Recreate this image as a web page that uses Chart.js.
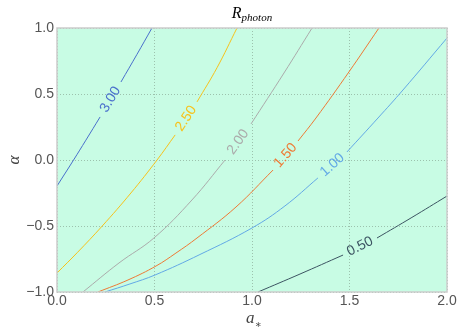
<!DOCTYPE html>
<html>
<head>
<meta charset="utf-8">
<script src="https://cdn.jsdelivr.net/npm/chart.js@4"></script>
<style>
  html, body { margin: 0; padding: 0; background: #fff; }
</style>
</head>
<body>
<canvas id="myChart" width="463" height="335"></canvas>
<script>
// contour levels and their traced points [a*, alpha]
// each contour is split in two pieces: the gap between them holds the label
const levels = ['3.00', '2.50', '2.00', '1.50', '1.00', '0.50'];

const r300Lo = [[0, -0.197], [0.085, 0], [0.148, 0.15], [0.221, 0.326]];
const r300Hi = [[0.328, 0.591], [0.41, 0.8], [0.487, 1.0]];

const r250Lo = [[0, -0.856], [0.105, -0.7], [0.232, -0.5], [0.379, -0.25], [0.513, 0], [0.606, 0.19]];
const r250Hi = [[0.718, 0.44], [0.821, 0.7], [0.923, 1.0]];

const r200Lo = [[0.133, -1.0], [0.318, -0.78], [0.497, -0.591], [0.692, -0.303], [0.862, 0]];
const r200Hi = [[0.995, 0.273], [1.164, 0.659], [1.308, 1.0]];

const r150Lo = [[0.21, -1.0], [0.364, -0.909], [0.508, -0.803], [0.61, -0.705], [0.718, -0.591], [0.918, -0.356], [1.108, -0.076]];
const r150Hi = [[1.236, 0.144], [1.328, 0.318], [1.497, 0.667], [1.651, 1.0]];

const r100Lo = [[0.246, -1.0], [0.374, -0.939], [0.503, -0.871], [0.733, -0.716], [1.0, -0.515], [1.169, -0.348], [1.338, -0.136]];
const r100Hi = [[1.487, 0.061], [1.646, 0.318], [1.774, 0.53], [2.0, 0.924]];

const r050Lo = [[1.031, -1.0], [1.246, -0.864], [1.467, -0.72]];
const r050Hi = [[1.641, -0.591], [1.82, -0.435], [2.0, -0.273]];

const xTicks = [0, 0.5, 1.0, 1.5, 2.0];
const yTicks = [-1.0, -0.5, 0, 0.5, 1.0];

const pieces = [
  [r300Lo, r300Hi], [r250Lo, r250Hi], [r200Lo, r200Hi],
  [r150Lo, r150Hi], [r100Lo, r100Hi], [r050Lo, r050Hi]
];
const colors = ['#4a70cc', '#f7c21b', '#ababab', '#ee7a35', '#63a9e6', '#3c5462'];

const toPts = arr => arr.map(p => ({ x: p[0], y: p[1] }));

const datasets = [];
pieces.forEach((pair, i) => {
  pair.forEach(seg => {
    datasets.push({
      data: toPts(seg),
      showLine: true,
      borderColor: colors[i],
      borderWidth: 1,
      pointRadius: 0,
      tension: 0.4,
      fill: false
    });
  });
});

const fmt = v => Number(v).toFixed(1).replace('-', '\u2212');

// background, frame, contour labels, title and axis titles
const decor = {
  id: 'decor',
  beforeDraw(chart) {
    const { ctx, chartArea: a } = chart;
    ctx.save();
    ctx.fillStyle = '#c8fce4';
    ctx.fillRect(a.left, a.top, a.right - a.left, a.bottom - a.top);
    ctx.restore();
  },
  afterDraw(chart) {
    const { ctx, chartArea: a, scales } = chart;
    ctx.save();
    ctx.strokeStyle = '#cccccc';
    ctx.lineWidth = 1.5;
    ctx.strokeRect(a.left, a.top, a.right - a.left, a.bottom - a.top);

    // contour labels in the gaps
    ctx.font = '14px "Liberation Sans", Arial, sans-serif';
    ctx.textAlign = 'center';
    ctx.textBaseline = 'middle';
    pieces.forEach((pair, i) => {
      const p0 = pair[0][pair[0].length - 1];
      const p1 = pair[1][0];
      const x0 = scales.x.getPixelForValue(p0[0]), y0 = scales.y.getPixelForValue(p0[1]);
      const x1 = scales.x.getPixelForValue(p1[0]), y1 = scales.y.getPixelForValue(p1[1]);
      ctx.save();
      ctx.translate((x0 + x1) / 2, (y0 + y1) / 2);
      ctx.rotate(Math.atan2(y1 - y0, x1 - x0));
      ctx.fillStyle = colors[i];
      ctx.fillText(levels[i], 0, 0);
      ctx.restore();
    });

    // title R_photon
    const cx = (a.left + a.right) / 2;
    ctx.textAlign = 'left';
    ctx.textBaseline = 'alphabetic';
    ctx.fillStyle = '#000';
    const bigF = 'italic 16px "Liberation Serif", "DejaVu Serif", serif';
    const smallF = 'italic 11px "Liberation Serif", "DejaVu Serif", serif';
    ctx.font = bigF;
    const wR = ctx.measureText('R').width;
    ctx.font = smallF;
    const wP = ctx.measureText('photon').width;
    const sx = cx - (wR + wP) / 2;
    ctx.font = bigF;
    ctx.fillText('R', sx, 18);
    ctx.font = smallF;
    ctx.fillText('photon', sx + wR, 21);

    // y axis title
    ctx.fillStyle = '#444';
    ctx.save();
    ctx.translate(19, (a.top + a.bottom) / 2);
    ctx.rotate(-Math.PI / 2);
    ctx.textAlign = 'center';
    ctx.font = 'italic 17px "Liberation Serif", "DejaVu Serif", serif';
    ctx.fillText('\u03b1', 0, 0);
    ctx.restore();

    // x axis title a_*
    ctx.font = 'italic 17px "Liberation Serif", "DejaVu Serif", serif';
    const wa = ctx.measureText('a').width;
    ctx.fillText('a', cx - 6, 323);
    ctx.font = '11px "DejaVu Sans", sans-serif';
    ctx.fillText('*', cx - 6 + wa + 1, 330);
    ctx.restore();
  }
};

const tickFont = { family: '"Liberation Sans", Arial, sans-serif', size: 14 };

new Chart(document.getElementById('myChart').getContext('2d'), {
  type: 'scatter',
  data: { datasets },
  options: {
    responsive: false,
    animation: false,
    layout: { padding: { top: 28, right: 16, left: 0, bottom: 0 } },
    plugins: { legend: { display: false }, tooltip: { enabled: false } },
    scales: {
      x: {
        type: 'linear', min: 0, max: 2,
        afterBuildTicks: s => { s.ticks = xTicks.map(v => ({ value: v })); },
        afterFit: s => { s.height = 43; },
        ticks: { callback: fmt, color: '#555', font: tickFont, padding: 1, maxRotation: 0 },
        grid: { color: '#9cc2ad', lineWidth: 1, drawTicks: false },
        border: { display: false, dash: [1, 2] }
      },
      y: {
        type: 'linear', min: -1, max: 1,
        afterBuildTicks: s => { s.ticks = yTicks.map(v => ({ value: v })); },
        afterFit: s => { s.width = 57; },
        ticks: { callback: fmt, color: '#555', font: tickFont, padding: 3 },
        grid: { color: '#9cc2ad', lineWidth: 1, drawTicks: false },
        border: { display: false, dash: [1, 2] }
      }
    }
  },
  plugins: [decor]
});
</script>
</body>
</html>
